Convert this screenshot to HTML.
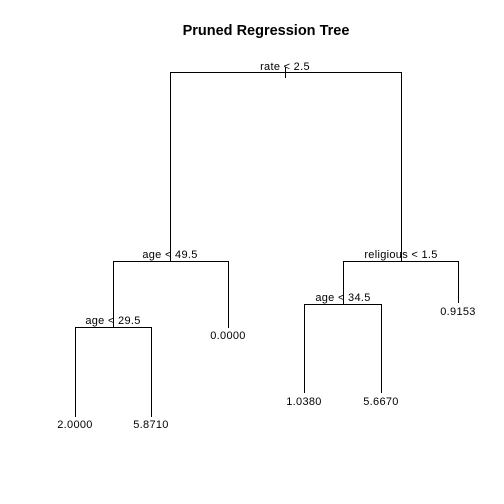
<!DOCTYPE html>
<html><head><style>body{margin:0;background:#fff}svg{display:block}</style></head><body>
<svg width="504" height="504" xmlns="http://www.w3.org/2000/svg" font-family="Liberation Sans, sans-serif" font-size="11" fill="#000" letter-spacing="0.3">
<rect width="504" height="504" fill="#fff"/>
<text x="266" y="35" text-anchor="middle" font-weight="bold" font-size="14.5" letter-spacing="0">Pruned Regression Tree</text>
<g stroke="#000" stroke-width="1" fill="none">
<path d="M170.5 261V72.5H401.5V261"/>
<path d="M285.5 67V78"/>
<path d="M113.5 327V261.5H228.5V328"/>
<path d="M75.5 417V327.5H151.5V417"/>
<path d="M343.5 304V261.5H458.5V303"/>
<path d="M304.5 393V304.5H381.5V393"/>
</g>
<text x="285" y="70" text-anchor="middle">rate &lt; 2.5</text>
<text x="170" y="258" text-anchor="middle">age &lt; 49.5</text>
<text x="113" y="324" text-anchor="middle">age &lt; 29.5</text>
<text x="401" y="258" text-anchor="middle">religious &lt; 1.5</text>
<text x="343" y="301" text-anchor="middle">age &lt; 34.5</text>
<text x="228" y="339" text-anchor="middle">0.0000</text>
<text x="458" y="315" text-anchor="middle">0.9153</text>
<text x="75" y="428" text-anchor="middle">2.0000</text>
<text x="151" y="428" text-anchor="middle">5.8710</text>
<text x="304" y="405" text-anchor="middle">1.0380</text>
<text x="381" y="405" text-anchor="middle">5.6670</text>
</svg>
</body></html>
